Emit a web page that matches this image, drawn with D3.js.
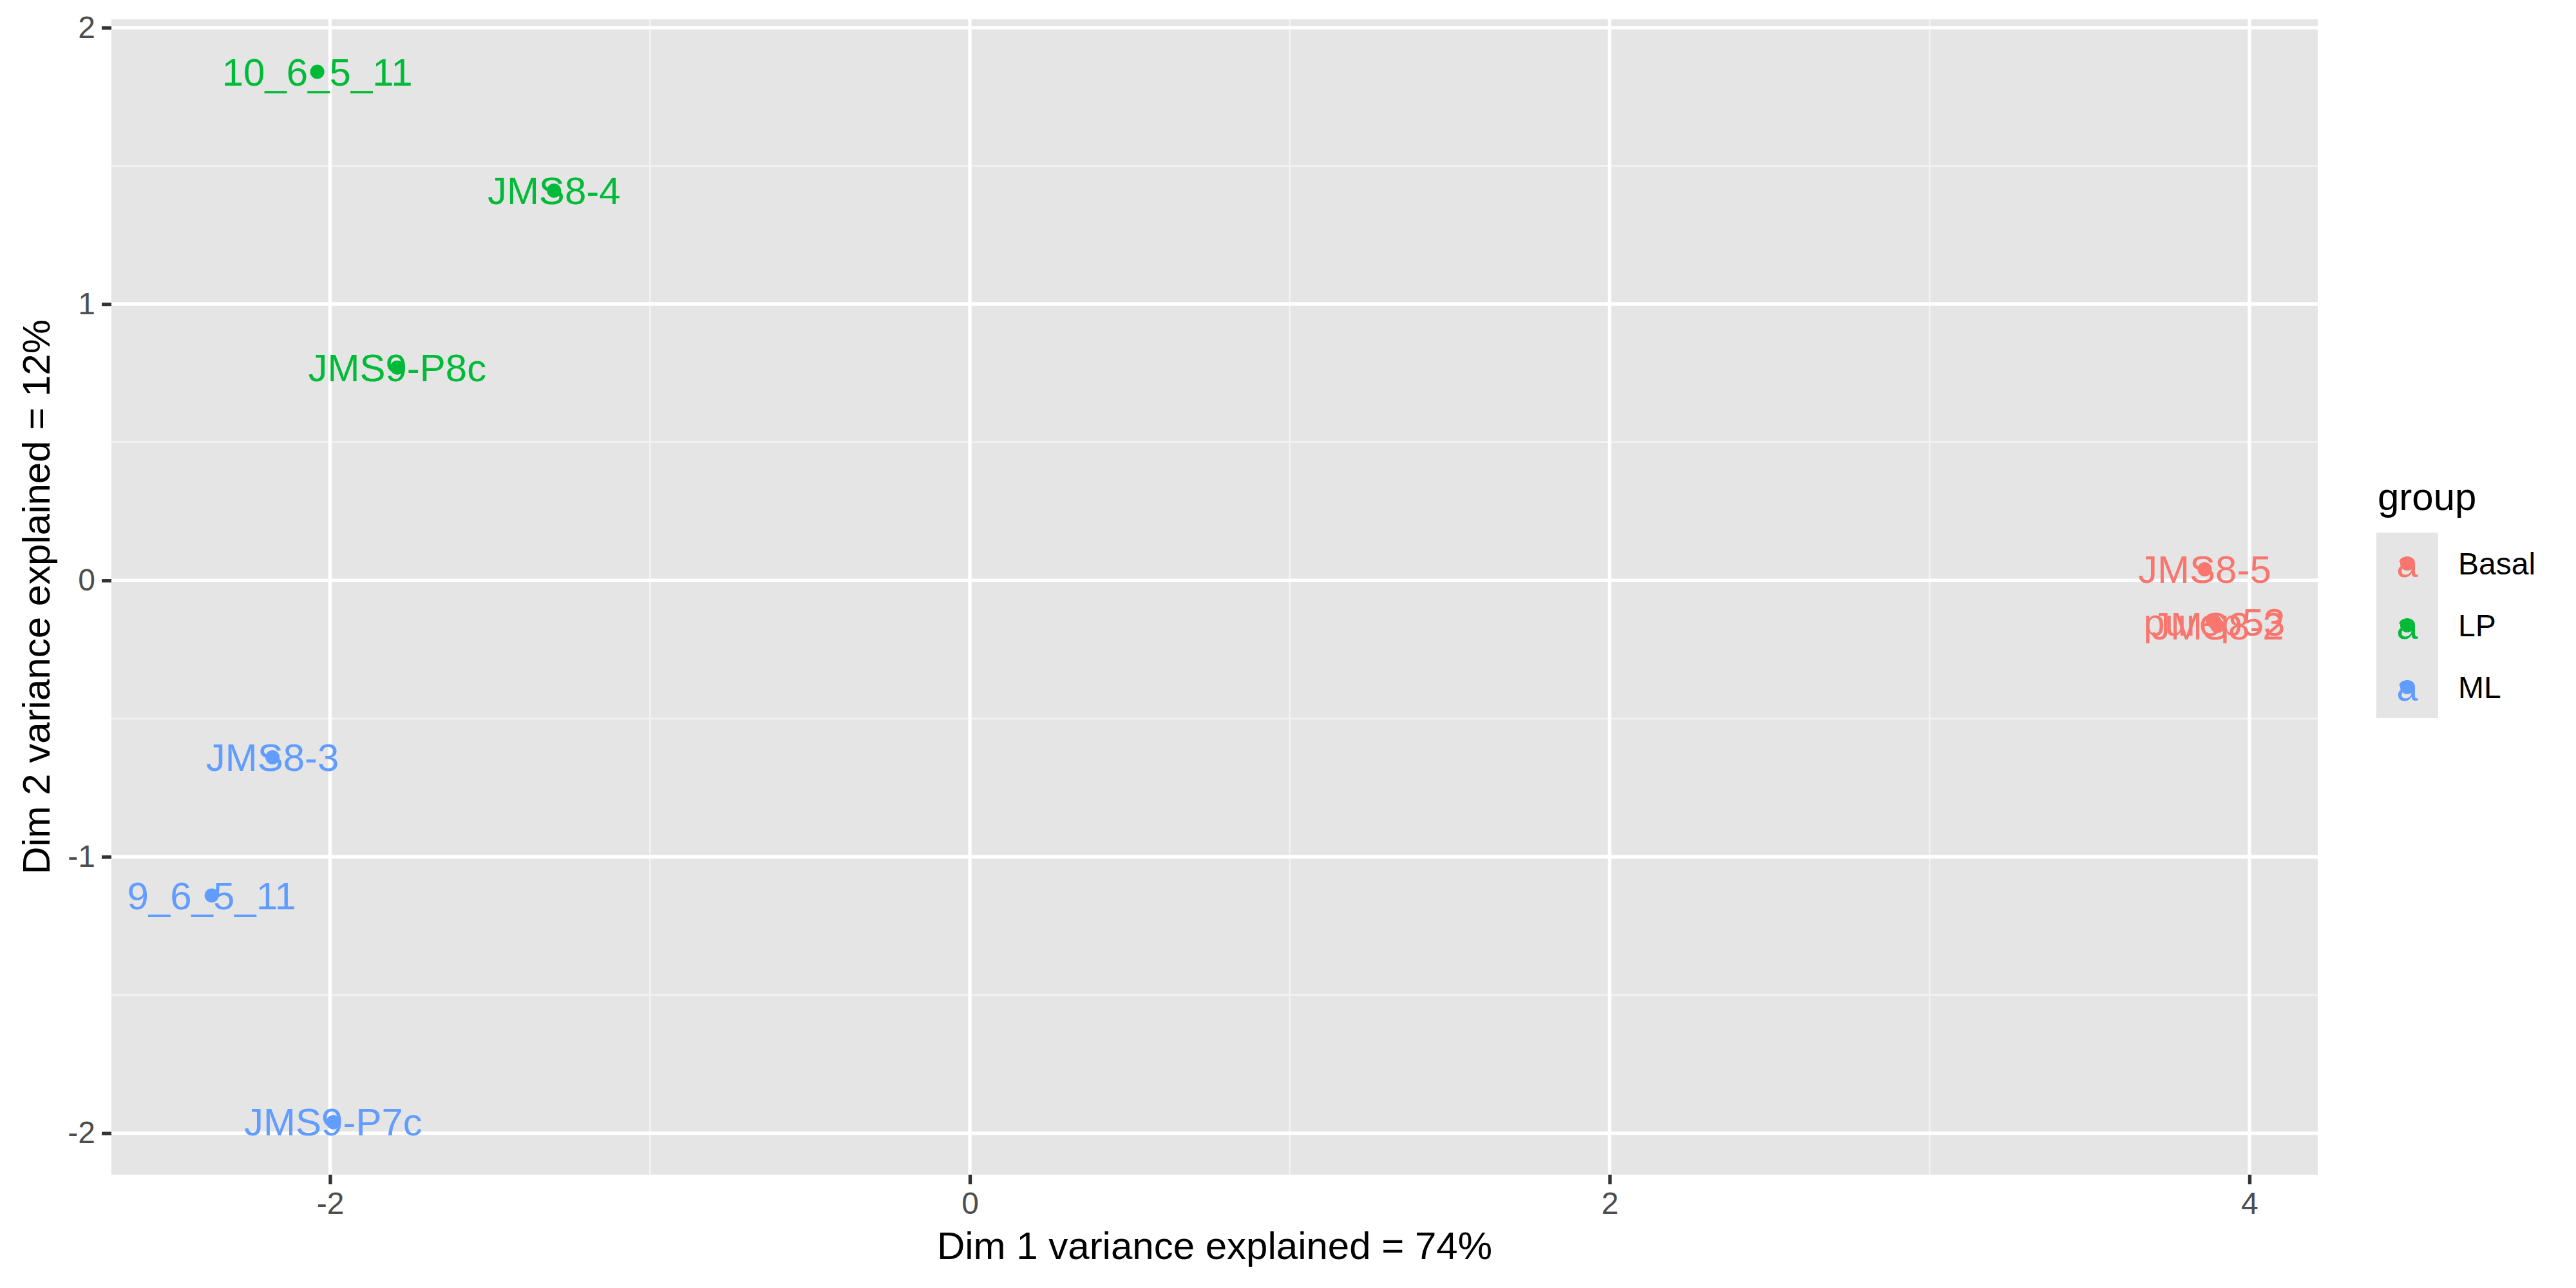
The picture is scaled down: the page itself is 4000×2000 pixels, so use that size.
<!DOCTYPE html>
<html>
<head>
<meta charset="utf-8">
<script src="https://cdn.jsdelivr.net/npm/d3@7"></script>
<style>
  html, body { margin: 0; padding: 0; background: #ffffff; }
  svg { display: block; }
</style>
</head>
<body>
<svg id="chart" width="4000" height="2000"></svg>
<script>
// ---- data ----
const sampleNames = ["10_6_5_11", "9_6_5_11", "purep53", "JMS8-2", "JMS8-3", "JMS8-4", "JMS8-5", "JMS9-P7c", "JMS9-P8c"];
const sampleGroups = ["LP", "ML", "Basal", "Basal", "ML", "LP", "Basal", "ML", "LP"];
const dim1Values = [-2.04, -2.37, 3.89, 3.90, -2.18, -1.30, 3.86, -1.99, -1.79];
const dim2Values = [1.84, -1.14, -0.15, -0.165, -0.64, 1.41, 0.04, -1.96, 0.77];
const groupLevels = ["Basal", "LP", "ML"];
const groupColors = ["#F8766D", "#00BA38", "#619CFF"];
const xTickValues = [-2, 0, 2, 4];
const yTickValues = [-2, -1, 0, 1, 2];
const xMinorValues = [-3, -1, 1, 3];
const yMinorValues = [-1.5, -0.5, 0.5, 1.5];
const xTitle = "Dim 1 variance explained = 74%";
const yTitle = "Dim 2 variance explained = 12%";
const legendTitle = "group";

// ---- layout ----
const W = 4000, H = 2000;
const panel = { left: 173, right: 3599, top: 30, bottom: 1824 };
const FONT = "'Liberation Sans', Arial, Helvetica, sans-serif";

const points = sampleNames.map((n, i) => ({ name: n, group: sampleGroups[i], x: dim1Values[i], y: dim2Values[i] }));

function expand(ext) { const s = ext[1] - ext[0]; return [ext[0] - 0.05 * s, ext[1] + 0.05 * s]; }
const x = d3.scaleLinear().domain(expand(d3.extent(dim1Values))).range([panel.left, panel.right]);
const y = d3.scaleLinear().domain(expand(d3.extent(dim2Values))).range([panel.bottom, panel.top]);
const color = d3.scaleOrdinal().domain(groupLevels).range(groupColors);

const svg = d3.select("#chart");
svg.append("rect").attr("width", W).attr("height", H).attr("fill", "#ffffff");

// panel background
svg.append("rect")
  .attr("x", panel.left).attr("y", panel.top)
  .attr("width", panel.right - panel.left).attr("height", panel.bottom - panel.top)
  .attr("fill", "#E5E5E5");

const grid = svg.append("g");
const xMin = x.domain()[0], xMax = x.domain()[1], yMin = y.domain()[0], yMax = y.domain()[1];
// minor grid
grid.selectAll("line.xminor").data(xMinorValues.filter(v => v > xMin && v < xMax)).enter().append("line")
  .attr("x1", d => x(d)).attr("x2", d => x(d)).attr("y1", panel.top).attr("y2", panel.bottom)
  .attr("stroke", "#F2F2F2").attr("stroke-width", 2.7);
grid.selectAll("line.yminor").data(yMinorValues.filter(v => v > yMin && v < yMax)).enter().append("line")
  .attr("y1", d => y(d)).attr("y2", d => y(d)).attr("x1", panel.left).attr("x2", panel.right)
  .attr("stroke", "#F2F2F2").attr("stroke-width", 2.7);
// major grid
grid.selectAll("line.xmajor").data(xTickValues).enter().append("line")
  .attr("x1", d => x(d)).attr("x2", d => x(d)).attr("y1", panel.top).attr("y2", panel.bottom)
  .attr("stroke", "#FFFFFF").attr("stroke-width", 5.4);
grid.selectAll("line.ymajor").data(yTickValues).enter().append("line")
  .attr("y1", d => y(d)).attr("y2", d => y(d)).attr("x1", panel.left).attr("x2", panel.right)
  .attr("stroke", "#FFFFFF").attr("stroke-width", 5.4);

// axes
const xAxis = d3.axisBottom(x).tickValues(xTickValues).tickSize(15).tickPadding(10).tickFormat(d3.format("d"));
const yAxis = d3.axisLeft(y).tickValues(yTickValues).tickSize(15).tickPadding(10).tickFormat(d3.format("d"));
const gx = svg.append("g").attr("transform", `translate(0,${panel.bottom})`).call(xAxis);
const gy = svg.append("g").attr("transform", `translate(${panel.left},0)`).call(yAxis);
[gx, gy].forEach(g => {
  g.select(".domain").remove();
  g.selectAll(".tick line").attr("stroke", "#333333").attr("stroke-width", 5.4);
  g.selectAll(".tick text").attr("fill", "#4D4D4D").style("font-family", FONT).style("font-size", "48px");
});
gx.selectAll(".tick text").attr("dy", "0.75em");
gy.selectAll(".tick text").text(d => d < 0 ? "-" + Math.abs(d) : String(d));
gx.selectAll(".tick text").text(d => d < 0 ? "-" + Math.abs(d) : String(d));

// points
svg.append("g").selectAll("circle").data(points).enter().append("circle")
  .attr("cx", d => x(d.x)).attr("cy", d => y(d.y)).attr("r", 11)
  .attr("fill", d => color(d.group));

// labels
svg.append("g").selectAll("text").data(points).enter().append("text")
  .attr("x", d => x(d.x)).attr("y", d => y(d.y)).attr("dy", "0.35em")
  .attr("text-anchor", "middle")
  .attr("fill", d => color(d.group))
  .style("font-family", FONT).style("font-size", "60px")
  .text(d => d.name);

// axis titles
svg.append("text")
  .attr("x", (panel.left + panel.right) / 2).attr("y", 1934).attr("dy", "0.35em")
  .attr("text-anchor", "middle").attr("fill", "#000000")
  .style("font-family", FONT).style("font-size", "60px").text(xTitle);
svg.append("text")
  .attr("transform", `translate(56,${(panel.top + panel.bottom) / 2}) rotate(-90)`)
  .attr("dy", "0.35em")
  .attr("text-anchor", "middle").attr("fill", "#000000")
  .style("font-family", FONT).style("font-size", "60px").text(yTitle);

// legend
const lg = svg.append("g").attr("transform", "translate(3690,0)");
lg.append("text").attr("x", 2).attr("y", 792).attr("fill", "#000000")
  .style("font-family", FONT).style("font-size", "60px").text(legendTitle);
const keySize = 96, keyTop = 827;
const items = lg.selectAll("g.item").data(groupLevels).enter().append("g")
  .attr("transform", (d, i) => `translate(0,${keyTop + i * keySize})`);
items.append("rect").attr("width", keySize).attr("height", keySize).attr("fill", "#E5E5E5");
items.append("circle").attr("cx", keySize / 2).attr("cy", keySize / 2).attr("r", 11).attr("fill", d => color(d));
items.append("text").attr("x", keySize / 2).attr("y", keySize / 2).attr("dy", "0.35em")
  .attr("text-anchor", "middle").attr("fill", d => color(d))
  .style("font-family", FONT).style("font-size", "60px").text("a");
items.append("text").attr("x", keySize + 31).attr("y", keySize / 2).attr("dy", "0.35em")
  .attr("fill", "#000000").style("font-family", FONT).style("font-size", "48px").text(d => d);
</script>
</body>
</html>
